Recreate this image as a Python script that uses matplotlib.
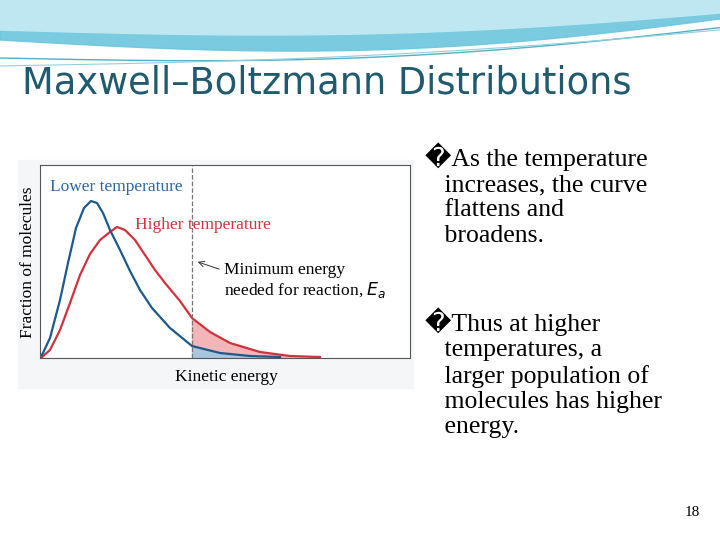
import numpy as np
import matplotlib
matplotlib.use("Agg")
import matplotlib.pyplot as plt

# data (x: kinetic energy, y: fraction), arbitrary units
blue_x = [2, 10, 20, 28, 36, 44, 51, 57, 63, 70, 80, 90, 100, 112, 130, 152, 180, 210, 240]
blue_y = [3, 20, 58, 95, 130, 150, 157, 155, 145, 128, 108, 87, 68, 50, 30, 12, 5, 2, 1]
red_x = [2, 10, 20, 30, 40, 50, 60, 70, 77, 85, 95, 105, 115, 125, 140, 152, 170, 190, 220, 250, 280]
red_y = [1, 8, 28, 55, 83, 104, 118, 126, 131, 128, 118, 103, 88, 75, 57, 40, 26, 15, 6, 2, 1]
ea = 152
labels = {"low": "Lower temperature", "high": "Higher temperature",
          "ea": "Minimum energy\nneeded for reaction, $E_a$"}
xlabel = "Kinetic energy"
ylabel = "Fraction of molecules"
title = "Maxwell\u2013Boltzmann Distributions"
bullets = ["\ufffdAs the temperature\n   increases, the curve\n   flattens and\n   broadens.",
           "\ufffdThus at higher\n   temperatures, a\n   larger population of\n   molecules has higher\n   energy."]
page = "18"
serif = ["Liberation Serif", "DejaVu Sans"]

fig = plt.figure(figsize=(7.2, 5.4), dpi=100)
W, H = 720, 540

bg = fig.add_axes([0, 0, 1, 1]); bg.set_xlim(0, W); bg.set_ylim(H, 0); bg.axis("off")
xs = np.linspace(0, W, 200)
bg.fill_between(xs, 0, 40 + 25*np.sin(xs/W*np.pi*0.9) - xs*0.04, color="#6cc6dd", alpha=0.9)
bg.fill_between(xs, 0, 30 + 15*np.sin(xs/W*np.pi*0.9) - xs*0.03, color="#bfe7f2")
bg.plot(xs, 58 + 18*np.sin(xs/W*np.pi*0.9) - xs*0.05, color="#4fb0c8", lw=1)
bg.plot(xs, 66 + 12*np.sin(xs/W*np.pi*0.8) - xs*0.06, color="#8fd0e0", lw=0.8)
bg.text(22, 83, title, fontsize=26.5, color="#1f5a6e", va="center", family="DejaVu Sans")
bg.text(425, 142, bullets[0], fontsize=18.5, family=serif, va="top", linespacing=1.2)
bg.text(425, 307, bullets[1], fontsize=18.5, family=serif, va="top", linespacing=1.2)
bg.text(700, 513, page, fontsize=11, family=serif, ha="right", va="center")
bg.add_patch(plt.Rectangle((18, 160), 395, 228, color="#f4f6f8", zorder=0))

ax = fig.add_axes([40/W, 1-358/H, 370/W, 193/H])
ax.set_xlim(0, 370); ax.set_ylim(0, 193)
bxi = np.linspace(ea, 280, 60)
bb = np.interp(bxi, blue_x, blue_y, right=0)
rr = np.interp(bxi, red_x, red_y, right=0)
ax.fill_between(bxi, 0, bb, color="#a9c6de")
ax.fill_between(bxi, bb, rr, color="#f2b5b8")
ax.plot(red_x, red_y, color="#d2323c", lw=1.6)
ax.plot(blue_x, blue_y, color="#1d5a8c", lw=1.6)
ax.axvline(ea, color="#777", ls="--", lw=0.9)
ax.set_xticks([]); ax.set_yticks([])
for s in ax.spines.values(): s.set_color("#555")
ax.set_facecolor("white")
ax.text(10, 171, labels["low"], color="#2a68a8", fontsize=12.5, family=serif, va="center")
ax.text(95, 133, labels["high"], color="#d2323c", fontsize=12.5, family=serif, va="center")
ax.annotate("", xy=(ea+3, 97), xytext=(182, 88), arrowprops=dict(arrowstyle="->", color="#333", lw=0.7))
ax.text(184, 77, labels["ea"], fontsize=12.5, family=serif, va="center", linespacing=1.1)
bg.text(226, 377, xlabel, fontsize=12.5, family=serif, ha="center", va="center")
bg.text(28, 262, ylabel, fontsize=12.5, family=serif, rotation=90, ha="center", va="center")
fig.savefig("out.png")
